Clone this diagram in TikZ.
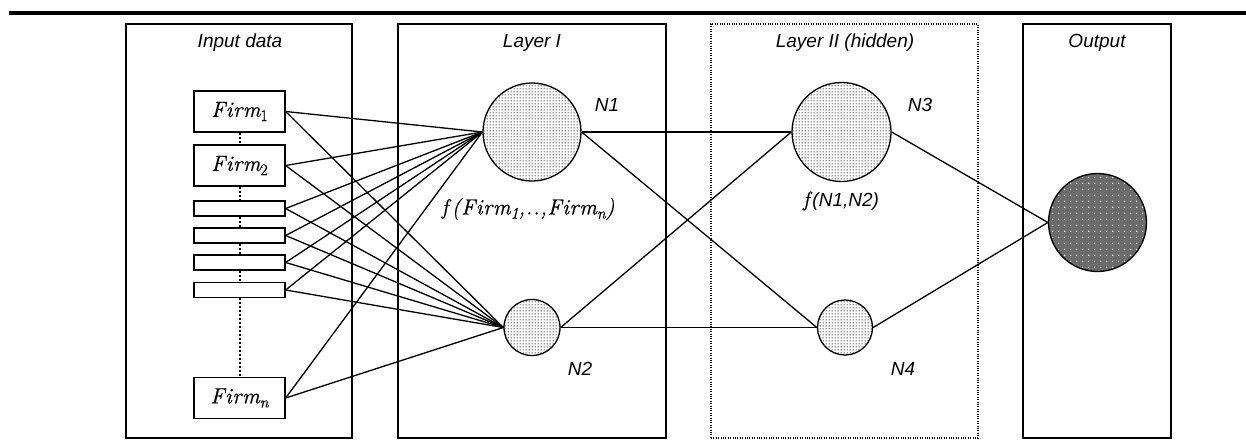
\documentclass[tikz,border=0pt]{standalone}
\usepackage{fontspec}
\setmainfont{Liberation Sans}
\newfontfamily\varfont[LetterSpace=3,FakeBold=0.7]{Latin Modern Roman}
\usetikzlibrary{patterns,patterns.meta}

% variable names set in a serif italic, index upright and lowered
\newcommand\varname[2]{{\varfont\itshape #1}\raisebox{-0.35ex}{\fontsize{16}{16}\selectfont\varfont #2}}
\newcommand\fn{{\varfont\itshape f}}

% fine dot grid for the hidden neurons
\tikzdeclarepattern{
  name=finedots,
  type=uncolored,
  bounding box={(0pt,0pt) and (3pt,3pt)},
  tile size={(3pt,3pt)},
  code={\fill (1.5pt,1.5pt) circle (0.75pt);}
}
% sparse dot grid for the output neuron
\tikzdeclarepattern{
  name=widedots,
  type=uncolored,
  bounding box={(0pt,0pt) and (6pt,6pt)},
  tile size={(6pt,6pt)},
  code={\fill (3pt,3pt) circle (0.9pt);}
}

\tikzset{
  panel/.style={draw, line width=1.3pt, minimum width=#1, minimum height=414pt, inner sep=0pt},
  hiddenpanel/.style={draw, line width=1.2pt, dash pattern=on 1pt off 1.4pt, minimum width=#1, minimum height=414pt, inner sep=0pt},
  title/.style={font=\fontsize{19}{23}\selectfont\itshape},
  lbl/.style={font=\fontsize{19}{23}\selectfont\itshape},
  vlbl/.style={font=\fontsize{22}{26}\selectfont\itshape},
  firm/.style={draw, fill=white, line width=1.3pt, minimum width=91pt, minimum height=41pt, inner sep=0pt, font=\fontsize{22}{26}\selectfont},
  slot/.style={draw, fill=white, line width=1.3pt, minimum width=91pt, minimum height=15pt, inner sep=0pt},
  neuron/.style={circle, draw, line width=1.3pt, inner sep=0pt, minimum size=#1,
    pattern=finedots, pattern color=black},
  outneuron/.style={circle, draw, line width=1.3pt, inner sep=0pt, minimum size=#1,
    preaction={fill=black!58}, pattern=widedots, pattern color=white},
  link/.style={line width=1.3pt},
  spine/.style={line width=2pt, dash pattern=on 2pt off 2pt},
}

\begin{document}
\begin{tikzpicture}[x=1pt, y=-1pt]
\useasboundingbox (0,0) rectangle (1246,444);

% heading rule
\coordinate (ruleL) at (9,13);
\coordinate (ruleR) at (1246,13);
\draw[line width=4pt] (ruleL) -- (ruleR);

% panels
\node[panel=226pt] (pin) at (239,231) {};
\node[panel=268pt] (pl1) at (532,231) {};
\node[hiddenpanel=267pt] (pl2) at (844.5,231) {};
\node[panel=148pt] (pout) at (1097,231) {};

\node[title] (tin) at (240,43) {Input data};
\node[title] (tl1) at (532,43) {Layer I};
\node[title] (tl2) at (845,43) {Layer II (hidden)};
\node[title] (tout) at (1097,43) {Output};

% input boxes
\node[firm] (f1) at (239.5,111.5) {\varname{Firm}{1}};
\node[firm] (f2) at (239.5,165.5) {\varname{Firm}{2}};
\node[slot] (s1) at (239.5,208.5) {};
\node[slot] (s2) at (239.5,235.5) {};
\node[slot] (s3) at (239.5,262.5) {};
\node[slot] (s4) at (239.5,290) {};
\node[firm] (fn) at (239.5,398) {\varname{Firm}{\itshape n}};

% dotted spine between the boxes
\draw[spine] (f1.south) -- (f2.north);
\draw[spine] (f2.south) -- (s1.north);
\draw[spine] (s1.south) -- (s2.north);
\draw[spine] (s2.south) -- (s3.north);
\draw[spine] (s3.south) -- (s4.north);
\draw[spine] (s4.south) -- (fn.north);

% neurons
\node[neuron=98pt] (n1) at (532,132) {};
\node[neuron=56pt] (n2) at (532,327.5) {};
\node[neuron=99pt] (n3) at (841.5,132) {};
\node[neuron=55pt] (n4) at (845,327.5) {};
\node[outneuron=98pt] (o) at (1097.5,222.5) {};

\node[lbl] (ln1) at (607,105) {N1};
\node[lbl] (ln2) at (580,369) {N2};
\node[lbl] (ln3) at (920,105) {N3};
\node[lbl] (ln4) at (903,369) {N4};
\node[vlbl] (fl1) at (528,209) {\fn\,{\varfont(}\varname{Firm}{1}{\varfont,..,}\varname{Firm}{\itshape n}{\varfont)}};
\node[lbl] (fl2) at (841,201) {{\fontsize{21}{24}\selectfont\fn}\,(N1,N2)};

% connections input -> layer I
\foreach \b in {f1,f2,s1,s2,s3,s4,fn}{
  \draw[link] (\b.east) -- (n1.west);
  \draw[link] (\b.east) -- (n2.west);
}

% layer I -> layer II
\draw[link] (n1.east) -- (n3.west);
\draw[link] (n1.east) -- (n4.west);
\draw[link] (n2.east) -- (n3.west);
\draw[link] (n2.east) -- (n4.west);

% layer II -> output
\draw[link] (n3.east) -- (o.west);
\draw[link] (n4.east) -- (o.west);
\end{tikzpicture}
\end{document}
